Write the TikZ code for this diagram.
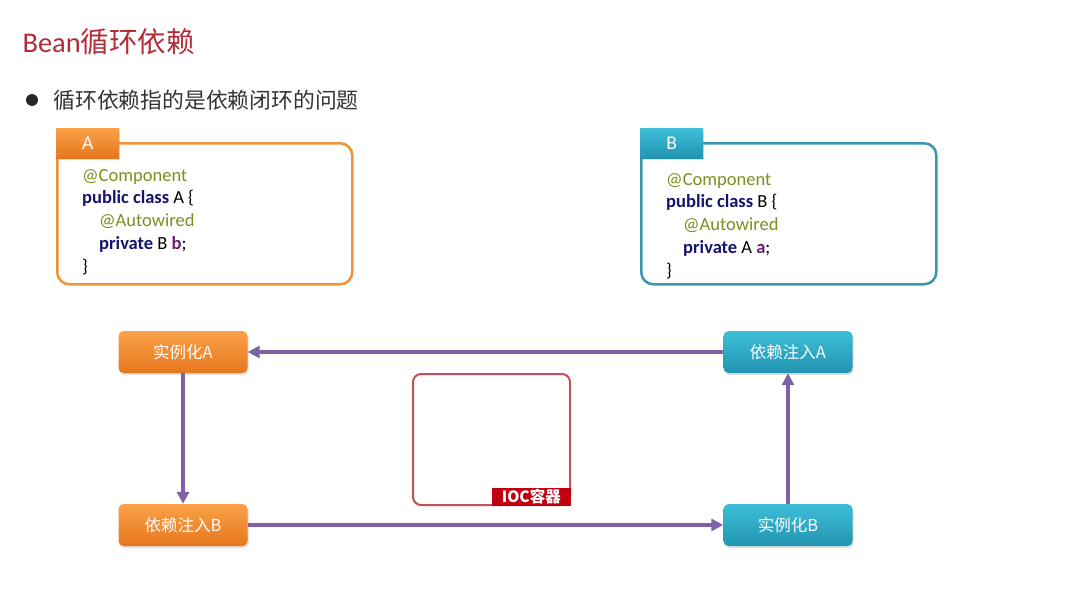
\documentclass[tikz,border=0pt]{standalone}
\usepackage{fontspec}
\setmainfont{Carlito}
\newfontfamily\cjk{Noto Sans CJK SC}
\usetikzlibrary{arrows.meta,shadows}

\definecolor{titleRed}{RGB}{178,44,58}
\definecolor{orangeLine}{RGB}{240,146,58}
\definecolor{orangeTop}{RGB}{250,162,72}
\definecolor{orangeBot}{RGB}{230,118,30}
\definecolor{tealLine}{RGB}{58,150,175}
\definecolor{tealTop}{RGB}{62,190,216}
\definecolor{tealBot}{RGB}{34,148,178}
\definecolor{flowPurple}{RGB}{125,98,165}
\definecolor{iocRed}{RGB}{192,80,90}
\definecolor{iocFill}{RGB}{192,0,16}
\definecolor{annoColor}{RGB}{128,140,30}
\definecolor{kwColor}{RGB}{20,20,110}
\definecolor{fldColor}{RGB}{110,30,110}

\newcommand\anno[1]{\textcolor{annoColor}{#1}}
\newcommand\kw[1]{\textcolor{kwColor}{\textbf{#1}}}
\newcommand\fld[1]{\textcolor{fldColor}{\textbf{#1}}}

\begin{document}
\begin{tikzpicture}[x=1pt,y=-1pt,
  codebox/.style={draw=#1,line width=2.5pt,rounded corners=12pt,minimum width=295pt,minimum height=141pt,anchor=north west},
  tab/.style={top color=#1Top,bottom color=#1Bot,minimum width=63pt,minimum height=30pt,anchor=north west,text=white,font=\fontsize{19.5}{20}\selectfont,drop shadow={opacity=0.25,shadow xshift=1pt,shadow yshift=-2pt}},
  code/.style={align=left,anchor=north west,inner sep=0pt,font=\fontsize{18.5}{22.7}\selectfont},
  stage/.style={top color=#1Top,bottom color=#1Bot,rounded corners=5pt,minimum width=129pt,minimum height=42pt,text=white,font=\cjk\fontsize{16.5}{18}\selectfont,drop shadow={opacity=0.25,shadow xshift=1pt,shadow yshift=-2pt}},
  flow/.style={draw=flowPurple,line width=3.5pt,-{Triangle[length=12pt,width=12pt]}}]
\useasboundingbox (0,0) rectangle (1067,602);

% Title
\node[anchor=west,text=titleRed,font=\fontsize{28.5}{32}\selectfont] (title) at (19,42) {Bean{\cjk 循环依赖}};
\node[circle,fill=black!85,inner sep=0pt,minimum size=12pt] (dot) at (32,100) {};
\node[anchor=west,font=\cjk\fontsize{21.8}{24}\selectfont,text=black!80] (point) at (50,100) {循环依赖指的是依赖闭环的问题};

% Class A
\node[codebox=orangeLine] (boxA) at (56,142) {};
\node[tab=orange] (tabA) at (56,128) {A};
\node[code] (codeA) at (82,169) {\anno{@Component}\\ \kw{public class} A \{\\ \hspace*{17pt}\anno{@Autowired}\\ \hspace*{17pt}\kw{private} B \fld{b};\\ \}};

% Class B
\node[codebox=tealLine] (boxB) at (640,142) {};
\node[tab=teal] (tabB) at (640,128) {B};
\node[code] (codeB) at (666,173) {\anno{@Component}\\ \kw{public class} B \{\\ \hspace*{17pt}\anno{@Autowired}\\ \hspace*{17pt}\kw{private} A \fld{a};\\ \}};

% Flow
\node[stage=orange] (instA) at (183,352) {实例化A};
\node[stage=orange] (injB) at (183,525) {依赖注入B};
\node[stage=teal] (injA) at (788,352) {依赖注入A};
\node[stage=teal] (instB) at (788,525) {实例化B};

\node[draw=iocRed,line width=2pt,rounded corners=8pt,minimum width=157pt,minimum height=131pt,anchor=north west] (ioc) at (412,373) {};
\node[fill=iocFill,text=white,anchor=south east,minimum width=79pt,minimum height=18pt,inner sep=0pt,font=\cjk\bfseries\fontsize{15.5}{17}\selectfont] (iocLabel) at (ioc.south east) {IOC容器};

% Arrows
\draw[flow] (injA) -- (instA);
\draw[flow] (instA) -- (injB);
\draw[flow] (injB) -- (instB);
\draw[flow] (instB) -- (injA);
\end{tikzpicture}
\end{document}
